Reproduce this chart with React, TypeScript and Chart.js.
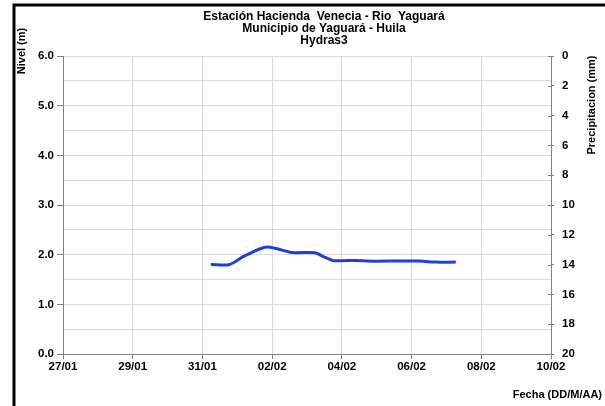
import React, { useEffect, useRef } from "react";
import { Chart, registerables } from "chart.js";

Chart.register(...registerables);

const titleLines = [
  "Estación Hacienda  Venecia - Rio  Yaguará",
  "Municipio de Yaguará - Huila",
  "Hydras3",
];
const xTickLabels = ["27/01", "29/01", "31/01", "02/02", "04/02", "06/02", "08/02", "10/02"];
// days since 27/01 00:00
const dayOffsets = [4.24, 4.77, 5.17, 5.7, 5.94, 6.51, 6.66, 7.23, 7.47, 7.75, 7.99, 8.61, 8.71, 10.24, 10.67, 11.27];
const nivel = [1.8, 1.8, 1.96, 2.13, 2.15, 2.05, 2.04, 2.04, 1.96, 1.88, 1.88, 1.88, 1.87, 1.87, 1.85, 1.85];
const yLabel = "Nivel (m)";
const y2Label = "Precipitacion (mm)";
const xLabel = "Fecha (DD/M/AA)";

const FONT = "'Liberation Sans', Arial, sans-serif";
const AXIS = "#7f7f7f";
const GRID = "#d9d9d9";

const decor = {
  id: "decor",
  afterDraw(chart: any) {
    const ctx = chart.ctx;
    const ca = chart.chartArea;
    ctx.save();
    // frame
    ctx.strokeStyle = "#000";
    ctx.lineWidth = 3;
    ctx.beginPath();
    ctx.moveTo(14, 406);
    ctx.lineTo(14, 5);
    ctx.lineTo(605, 5);
    ctx.stroke();
    // titles
    ctx.fillStyle = "#000";
    ctx.font = `bold 12px ${FONT}`;
    ctx.textAlign = "center";
    ctx.textBaseline = "middle";
    const cx = 324;
    titleLines.forEach((t, i) => ctx.fillText(t, cx, 17 + i * 12));
    // y title
    ctx.font = `bold 11px ${FONT}`;
    ctx.save();
    ctx.translate(22, 51);
    ctx.rotate(-Math.PI / 2);
    ctx.fillText(yLabel, 0, 0);
    ctx.restore();
    // y2 title
    ctx.save();
    ctx.translate(592, 105);
    ctx.rotate(-Math.PI / 2);
    ctx.fillText(y2Label, 0, 0);
    ctx.restore();
    // x title
    ctx.textAlign = "right";
    ctx.fillText(xLabel, 602, 395);
    // crossing ticks on right axis
    const y2 = chart.scales.y2;
    ctx.strokeStyle = AXIS;
    ctx.lineWidth = 1;
    y2.ticks.forEach((t: any, i: number) => {
      if (i === 0) return;
      const py = Math.round(y2.getPixelForValue(t.value)) + 0.5;
      ctx.beginPath();
      ctx.moveTo(ca.right - 3, py);
      ctx.lineTo(ca.right, py);
      ctx.stroke();
    });
    ctx.restore();
  },
};

export default function App() {
  const ref = useRef<HTMLCanvasElement>(null);
  useEffect(() => {
    if (!ref.current) return;
    const chart = new Chart(ref.current, {
      type: "line",
      data: {
        datasets: [
          {
            label: yLabel,
            data: dayOffsets.map((d, i) => ({ x: d, y: nivel[i] })),
            borderColor: "#1c40d8",
            borderWidth: 3,
            pointRadius: 0,
            tension: 0.3,
            yAxisID: "y",
          },
        ],
      },
      options: {
        responsive: false,
        animation: false,
        layout: { padding: { top: 56, left: 0, right: 0, bottom: 0 } },
        plugins: { legend: { display: false }, title: { display: false }, tooltip: { enabled: false } },
        scales: {
          x: {
            type: "linear",
            min: 0,
            max: 14,
            afterFit: (s: any) => { s.height = 52; },
            ticks: {
              stepSize: 2,
              autoSkip: false,
              maxRotation: 0,
              padding: 1,
              color: "#000",
              font: { family: FONT, size: 11.5, weight: "bold" },
              callback: (v: any) => xTickLabels[Math.round(Number(v) / 2)] ?? "",
            },
            grid: { color: GRID, tickColor: AXIS, tickLength: 5, lineWidth: 1 },
            border: { color: AXIS, width: 1 },
          },
          y: {
            position: "left",
            min: 0,
            max: 6,
            afterFit: (s: any) => { s.width = 63; },
            ticks: {
              stepSize: 0.5,
              autoSkip: false,
              padding: 3,
              color: "#000",
              font: { family: FONT, size: 11.5, weight: "bold" },
              callback: (v: any) => (Number(v) % 1 === 0 ? Number(v).toFixed(1) : ""),
            },
            grid: {
              color: GRID,
              tickLength: 6,
              tickColor: (c: any) => (c.tick && c.tick.value % 1 === 0 ? AXIS : "rgba(0,0,0,0)"),
            },
            border: { color: AXIS, width: 1 },
          },
          y2: {
            position: "right",
            min: 0,
            max: 20,
            reverse: true,
            afterFit: (s: any) => { s.width = 54; },
            ticks: {
              stepSize: 2,
              autoSkip: false,
              padding: 8,
              color: "#000",
              font: { family: FONT, size: 11.5, weight: "bold" },
            },
            grid: { drawOnChartArea: false, tickLength: 3, tickColor: AXIS },
            border: { color: AXIS, width: 1 },
          },
        },
      },
      plugins: [decor],
    } as any);
    return () => chart.destroy();
  }, []);
  return (
    <div style={{ position: "fixed", left: 0, top: 0, width: 605, height: 406, background: "#fff" }}>
      <canvas ref={ref} width={605} height={406} />
    </div>
  );
}
